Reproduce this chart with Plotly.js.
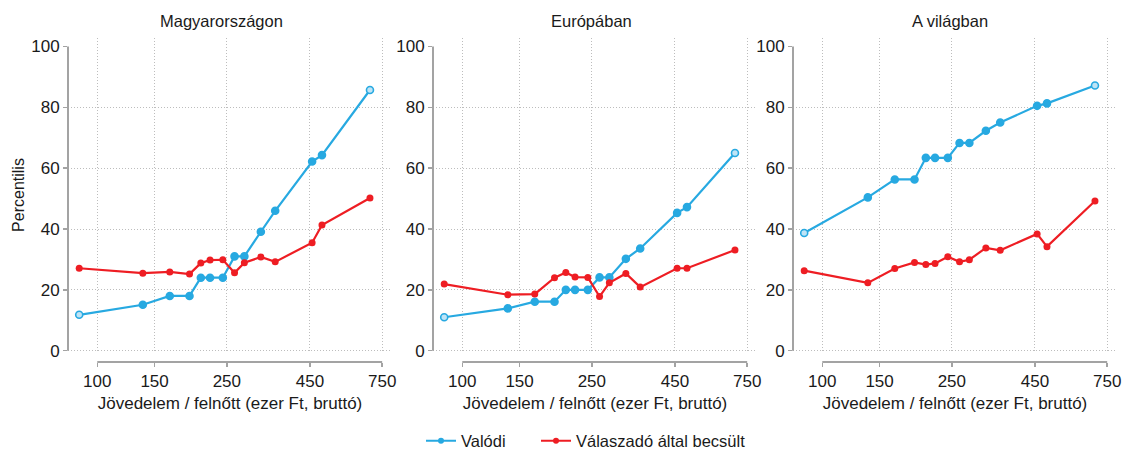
<!DOCTYPE html>
<html>
<head>
<meta charset="utf-8">
<script src="https://cdn.plot.ly/plotly-3.0.1.min.js"></script>
<style>html,body{margin:0;padding:0;background:#fff;}#chart{width:1124px;height:450px;}</style>
</head>
<body>
<div id="chart"></div>
<script>
// Income per adult (thousand HUF, gross) – shared x positions
const incomeK = [88, 138, 167, 192, 208, 222, 243, 264, 283, 318, 352, 457, 490, 688];
const xTickVals = [100, 150, 250, 450, 750];
const yTickVals = [0, 20, 40, 60, 80, 100];
const yGridVals = [0, 20, 40, 60, 80];

const panelTitles = ['Magyarországon', 'Európában', 'A világban'];
const seriesNames = ['Valódi', 'Válaszadó által becsült'];

// Magyarországon
const huReal = [11.8, 15.1, 18.0, 18.0, 24.0, 24.0, 24.0, 31.0, 31.0, 39.1, 46.0, 62.2, 64.3, 85.7];
const huEst  = [27.1, 25.5, 25.9, 25.2, 28.8, 29.8, 29.9, 25.6, 28.9, 30.8, 29.2, 35.5, 41.3, 50.2];
// Európában
const euReal = [11.0, 13.9, 16.1, 16.1, 20.0, 20.0, 20.0, 24.1, 24.1, 30.2, 33.6, 45.3, 47.2, 65.0];
const euEst  = [21.9, 18.4, 18.6, 24.0, 25.7, 24.2, 24.1, 17.8, 22.3, 25.4, 20.9, 27.1, 27.1, 33.1];
// A világban
const wReal  = [38.7, 50.4, 56.3, 56.3, 63.4, 63.4, 63.4, 68.3, 68.3, 72.3, 75.0, 80.5, 81.3, 87.2];
const wEst   = [26.3, 22.3, 27.0, 29.0, 28.3, 28.7, 30.9, 29.2, 29.9, 33.8, 33.0, 38.4, 34.2, 49.2];

const BLUE = '#27a9e1';
const RED = '#ee1d23';
const AXIS_GRAY = '#a3a3a3';
const GRID = '#bdbdbd';
const GRID_DASH = '1px,2px';
const TXT = '#1a1a1a';
const FONT = 'Liberation Sans, Arial, sans-serif';

const panels = [
  {real: huReal, est: huEst},
  {real: euReal, est: euEst},
  {real: wReal, est: wEst}
];

const blueFill = incomeK.map((_, i) => (i === 0 || i === incomeK.length - 1) ? '#bfe4f6' : BLUE);

const traces = [];
panels.forEach((p, k) => {
  const xa = k === 0 ? 'x' : 'x' + (k + 1);
  const ya = k === 0 ? 'y' : 'y' + (k + 1);
  traces.push({
    x: incomeK, y: p.real, xaxis: xa, yaxis: ya, type: 'scatter', mode: 'lines+markers',
    name: seriesNames[0], legendgroup: 'real', showlegend: false,
    line: {color: BLUE, width: 2.2},
    marker: {size: 7, color: blueFill, line: {color: BLUE, width: 1.6}},
    hoverinfo: 'x+y'
  });
  traces.push({
    x: incomeK, y: p.est, xaxis: xa, yaxis: ya, type: 'scatter', mode: 'lines+markers',
    name: seriesNames[1], legendgroup: 'est', showlegend: false,
    line: {color: RED, width: 2.2},
    marker: {size: 7, color: RED},
    hoverinfo: 'x+y'
  });
});

// legend entries (no drawn data), one legend box per series
traces.push({x: [null], y: [null], type: 'scatter', mode: 'lines+markers', name: seriesNames[0],
  legend: 'legend', legendgroup: 'real', showlegend: true,
  line: {color: BLUE, width: 2.2}, marker: {size: 6, color: BLUE}});
traces.push({x: [null], y: [null], type: 'scatter', mode: 'lines+markers', name: seriesNames[1],
  legend: 'legend2', legendgroup: 'est', showlegend: true,
  line: {color: RED, width: 2.2}, marker: {size: 6, color: RED}});

const W = 1124, H = 450;
const mL = 68, mR = 7, mT = 38, mB = 88;
const pw = W - mL - mR, ph = H - mT - mB;
const px2fx = v => (v - mL) / pw;
const py2fy = v => (H - mB - v) / ph;

const xDomains = [[px2fx(68), px2fx(392)], [px2fx(433), px2fx(757)], [px2fx(793), px2fx(1117)]];
const yDomain = [py2fy(352), 1];
const xRange = [Math.log10(81.3), Math.log10(804)];
const yRange = [-0.43, 102.8];

const legendBase = {
  orientation: 'h', xref: 'container', yref: 'container',
  y: (H - 441) / H, xanchor: 'left', yanchor: 'middle',
  font: {family: FONT, size: 16.5, color: TXT}, itemwidth: 30, tracegroupgap: 0,
  bgcolor: 'rgba(0,0,0,0)'
};

const layout = {
  width: W, height: H,
  margin: {l: mL, r: mR, t: mT, b: mB},
  paper_bgcolor: '#fff', plot_bgcolor: '#fff',
  font: {family: FONT, size: 17, color: TXT},
  showlegend: true,
  legend: Object.assign({}, legendBase, {x: 421 / W}),
  legend2: Object.assign({}, legendBase, {x: 536 / W}),
  annotations: [],
  shapes: []
};

const titleX = [221, 591.5, 950];
for (let k = 0; k < 3; k++) {
  const sx = k === 0 ? '' : String(k + 1);
  const ovId = 4 + k;
  layout['xaxis' + sx] = {
    type: 'log', domain: xDomains[k], range: xRange,
    anchor: 'free', position: 0,
    tickvals: xTickVals, ticktext: xTickVals.map(String),
    ticks: 'outside', ticklen: 4, tickwidth: 1.5, tickcolor: AXIS_GRAY,
    ticklabelstandoff: 0,
    showline: false, zeroline: false,
    showgrid: true, gridcolor: GRID, griddash: GRID_DASH, gridwidth: 1,
    tickfont: {family: FONT, size: 17, color: TXT},
    title: {text: 'Jövedelem / felnőtt (ezer Ft, bruttó)', font: {family: FONT, size: 17, color: TXT}, standoff: 6},
    automargin: false, fixedrange: true
  };
  layout['yaxis' + sx] = {
    domain: yDomain, range: yRange, anchor: 'x' + sx,
    tickvals: yTickVals, ticktext: yTickVals.map(String),
    ticks: 'outside', ticklen: 4, tickwidth: 1.5, tickcolor: AXIS_GRAY,
    showline: false, zeroline: false, showgrid: false,
    tickfont: {family: FONT, size: 17, color: TXT},
    title: k === 0 ? {text: 'Percentilis', font: {family: FONT, size: 16, color: TXT}, standoff: 2} : {text: ''},
    automargin: false, fixedrange: true
  };
  // overlay axis that only carries the horizontal dotted grid (no line at 100)
  layout['yaxis' + ovId] = {
    domain: yDomain, range: yRange, anchor: 'x' + sx, overlaying: 'y' + sx,
    tickvals: yGridVals, showticklabels: false, ticks: '',
    showline: false, zeroline: false,
    showgrid: true, gridcolor: GRID, griddash: GRID_DASH, gridwidth: 1,
    fixedrange: true
  };
  // axis lines spanning only the tick range (0–100 and 100–750)
  layout.shapes.push({
    type: 'line', xref: 'x' + sx + ' domain', yref: 'y' + sx,
    x0: 0, x1: 0, y0: yTickVals[0], y1: yTickVals[yTickVals.length - 1],
    line: {color: AXIS_GRAY, width: 2}
  });
  layout.shapes.push({
    type: 'line', xref: 'x' + sx, yref: 'paper',
    x0: xTickVals[0], x1: xTickVals[xTickVals.length - 1], y0: 0, y1: 0,
    line: {color: AXIS_GRAY, width: 2}
  });
  layout.annotations.push({
    text: panelTitles[k], xref: 'paper', yref: 'paper',
    x: px2fx(titleX[k]), y: py2fy(21), xanchor: 'center', yanchor: 'middle',
    showarrow: false, font: {family: FONT, size: 16.5, color: TXT}
  });
}

// invisible traces to register the grid overlay subplots
for (let k = 0; k < 3; k++) {
  const xa = k === 0 ? 'x' : 'x' + (k + 1);
  traces.push({x: [], y: [], xaxis: xa, yaxis: 'y' + (4 + k), type: 'scatter', mode: 'markers',
    showlegend: false, hoverinfo: 'skip'});
}

Plotly.newPlot('chart', traces, layout, {displayModeBar: false, staticPlot: true});
</script>
</body>
</html>
